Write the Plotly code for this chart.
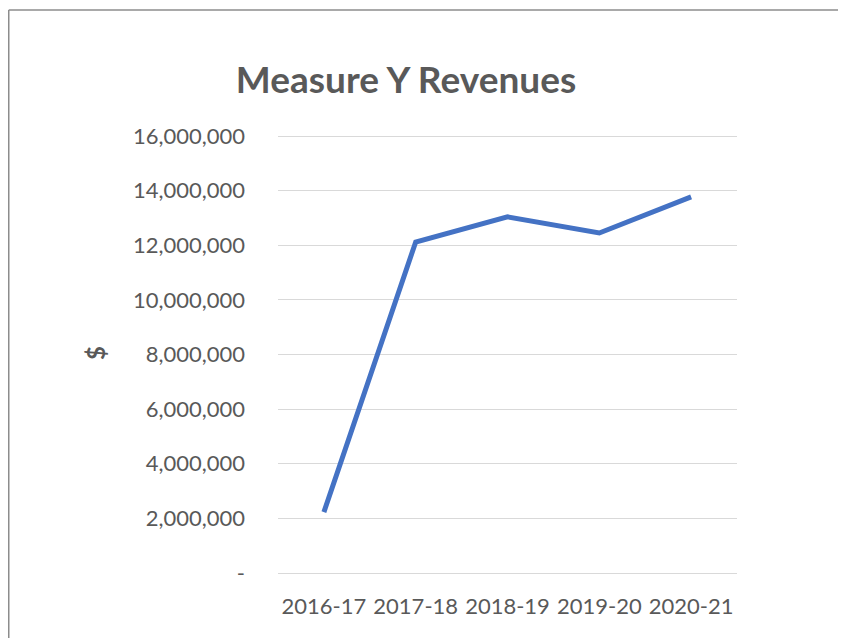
import plotly.graph_objects as go

years = ["2016-17", "2017-18", "2018-19", "2019-20", "2020-21"]
revenues = [2230000, 12120000, 13040000, 12450000, 13770000]
y_tick_vals = [0, 2000000, 4000000, 6000000, 8000000, 10000000, 12000000, 14000000, 16000000]
y_tick_text = ["-", "2,000,000", "4,000,000", "6,000,000", "8,000,000", "10,000,000",
               "12,000,000", "14,000,000", "16,000,000"]

# page body has an 8px offset; work in figure coordinates
W, H = 838, 630
L, R, T, B = 270, 838 - 729, 125, 630 - 565
pw, ph = W - L - R, H - T - B

fig = go.Figure(go.Scatter(
    x=years, y=revenues, mode="lines",
    line=dict(color="#4472C4", width=5), hoverinfo="x+y"))

font = "Lato, Open Sans, sans-serif"
fig.update_layout(
    width=W, height=H, margin=dict(l=L, r=R, t=T, b=B),
    paper_bgcolor="white", plot_bgcolor="white", showlegend=False,
    title=dict(text="<b>Measure Y Revenues</b>", x=398 / W, xanchor="center",
               y=1 - 72 / H, yanchor="middle",
               font=dict(family=font, size=37, color="#595959")),
    font=dict(family=font, color="#595959", size=22),
)
fig.update_xaxes(showgrid=False, showline=False, zeroline=False, range=[-0.5, 4.5],
                 tickfont=dict(size=22, color="#595959"), ticklabelstandoff=18)
fig.update_yaxes(range=[0, 16110000], tickvals=y_tick_vals, ticktext=y_tick_text,
                 showgrid=True, gridcolor="#D9D9D9", gridwidth=1.3,
                 zeroline=True, zerolinecolor="#D9D9D9", zerolinewidth=1.3, showline=False,
                 tickfont=dict(size=22, color="#595959"), ticklabelstandoff=32,
                 title=dict(text="<b>$</b>", font=dict(size=24, color="#595959"), standoff=20))

x0 = (0.75 - L) / pw
y0 = (H - 2 - B) / ph
fig.add_shape(type="line", xref="paper", yref="paper", x0=x0, x1=(W + 20 - L) / pw, y0=y0, y1=y0,
              line=dict(color="#8C8C8C", width=1.5))
fig.add_shape(type="line", xref="paper", yref="paper", x0=x0, x1=x0, y0=y0, y1=(-20 - B) / ph,
              line=dict(color="#8C8C8C", width=1.5))

fig.write_html("out.html")
